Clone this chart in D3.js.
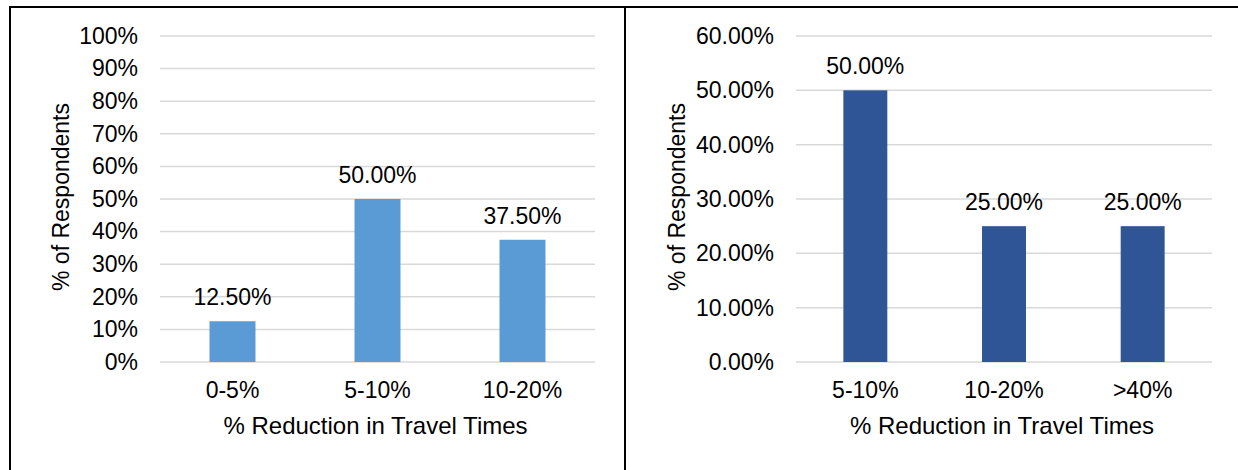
<!DOCTYPE html>
<html>
<head>
<meta charset="utf-8">
<script src="https://cdn.jsdelivr.net/npm/d3@7"></script>
<style>
  body { margin: 0; background: #fff; }
  svg text { font-family: "Liberation Sans", Arial, sans-serif; fill: #000; }
</style>
</head>
<body>
<svg id="chart" width="1238" height="470"></svg>
<script>
// chart data
var leftCategories = ["0-5%", "5-10%", "10-20%"];
var leftValues = [12.5, 50, 37.5];
var leftTicks = [0, 10, 20, 30, 40, 50, 60, 70, 80, 90, 100];

var rightCategories = ["5-10%", "10-20%", ">40%"];
var rightValues = [50, 25, 25];
var rightTicks = [0, 10, 20, 30, 40, 50, 60];

var xTitle = "% Reduction in Travel Times";
var yTitle = "% of Respondents";

var svg = d3.select("#chart");
var fontSize = 23;

// frame lines
svg.append("line").attr("x1", 9).attr("x2", 1238).attr("y1", 7).attr("y2", 7)
    .attr("stroke", "#000").attr("stroke-width", 2);
svg.append("line").attr("x1", 10).attr("x2", 10).attr("y1", 6).attr("y2", 470)
    .attr("stroke", "#000").attr("stroke-width", 2);
svg.append("line").attr("x1", 625).attr("x2", 625).attr("y1", 6).attr("y2", 470)
    .attr("stroke", "#000").attr("stroke-width", 2);

function drawPanel(cfg) {
    var g = svg.append("g");
    var x = d3.scaleBand().domain(cfg.categories).range([cfg.x0, cfg.x1])
        .paddingInner(0.683).paddingOuter(0.3415);
    var y = d3.scaleLinear().domain([0, cfg.max]).range([362, 36]);

    // gridlines
    g.selectAll("line.grid").data(cfg.ticks).enter().append("line")
        .attr("class", "grid")
        .attr("x1", cfg.x0).attr("x2", cfg.x1)
        .attr("y1", function(d) { return y(d); })
        .attr("y2", function(d) { return y(d); })
        .attr("stroke", "#d9d9d9").attr("stroke-width", 1.5);

    // y axis labels
    var yAxis = d3.axisLeft(y).tickValues(cfg.ticks).tickSize(0).tickPadding(0)
        .tickFormat(function(d) { return d3.format(cfg.fmt)(d / 100); });
    var ya = g.append("g").attr("transform", "translate(" + cfg.labelX + ",0)").call(yAxis);
    ya.select(".domain").remove();
    ya.selectAll("text").attr("font-size", fontSize).attr("font-family", null).attr("fill", "#000");

    // x axis labels
    var xAxis = d3.axisBottom(x).tickSize(0).tickPadding(0);
    var xa = g.append("g").attr("transform", "translate(0,382)").call(xAxis);
    xa.select(".domain").remove();
    xa.selectAll("text").attr("font-size", fontSize).attr("font-family", null).attr("fill", "#000");

    // bars
    var data = cfg.categories.map(function(c, i) { return { cat: c, val: cfg.values[i] }; });
    g.selectAll("rect.bar").data(data).enter().append("rect")
        .attr("class", "bar")
        .attr("x", function(d) { return x(d.cat); })
        .attr("width", x.bandwidth())
        .attr("y", function(d) { return y(d.val); })
        .attr("height", function(d) { return y(0) - y(d.val); })
        .attr("fill", cfg.color);

    // value labels
    g.selectAll("text.val").data(data).enter().append("text")
        .attr("class", "val")
        .attr("x", function(d) { return x(d.cat) + x.bandwidth() / 2; })
        .attr("y", function(d) { return y(d.val) - 16; })
        .attr("text-anchor", "middle")
        .attr("font-size", fontSize)
        .text(function(d) { return d3.format(".2%")(d.val / 100); });

    // titles
    g.append("text")
        .attr("x", (cfg.x0 + cfg.x1) / 2 - 2).attr("y", 434)
        .attr("text-anchor", "middle").attr("font-size", 24)
        .text(xTitle);
    g.append("text")
        .attr("transform", "translate(" + cfg.titleX + ",197) rotate(-90)")
        .attr("text-anchor", "middle").attr("font-size", fontSize)
        .text(yTitle);
}

drawPanel({
    categories: leftCategories, values: leftValues, ticks: leftTicks, max: 100,
    x0: 160, x1: 595, labelX: 138, titleX: 69, color: "#5b9bd5", fmt: ".0%"
});
drawPanel({
    categories: rightCategories, values: rightValues, ticks: rightTicks, max: 60,
    x0: 796, x1: 1212, labelX: 774, titleX: 685, color: "#2f5597", fmt: ".2%"
});
</script>
</body>
</html>
